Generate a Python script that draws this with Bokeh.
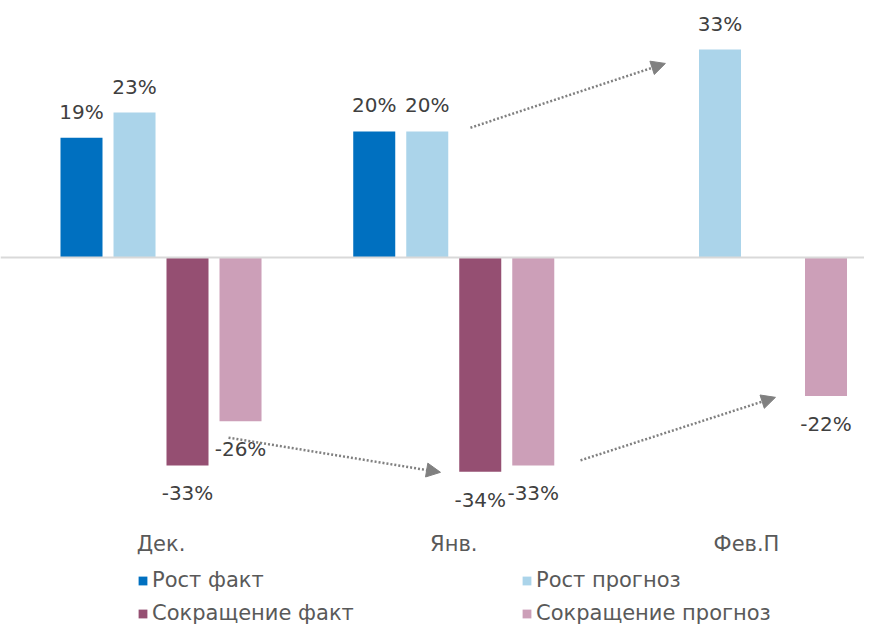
from bokeh.plotting import figure
from bokeh.models import Range1d, Span, Arrow, NormalHead, ColumnDataSource, Legend, LegendItem
from bokeh.core.properties import value
from bokeh.embed import file_html
from bokeh.resources import INLINE

# ---- data ----
categories = ["Дек.", "Янв.", "Фев.П"]
series_names = ["Рост факт", "Рост прогноз", "Сокращение факт", "Сокращение прогноз"]
growth_fact = [19, 20, None]
growth_forecast = [23, 20, 33]
decline_fact = [-33, -34, None]
decline_forecast = [-26, -33, -22]
series_values = [growth_fact, growth_forecast, decline_fact, decline_forecast]

# ---- styles ----
colors = ["#0070C0", "#ABD4EA", "#954F72", "#CC9FB8"]
offsets = [-0.2716, -0.0905, 0.0905, 0.2716]
bar_width = 0.1435
FONT = "DejaVu Sans"
label_color = "#404040"

p = figure(width=864, height=628, output_backend="svg", toolbar_location=None,
           x_range=Range1d(-0.5483, 2.4031), y_range=Range1d(-58.89, 40.79),
           x_axis_location=None, y_axis_location=None, min_border=0,
           outline_line_color=None, background_fill_color="white", border_fill_color="white")
p.xgrid.visible = False
p.ygrid.visible = False

renderers = []
for name, vals, col, off in zip(series_names, series_values, colors, offsets):
    xs, tops = [], []
    for i, v in enumerate(vals):
        if v is not None:
            xs.append(i + off)
            tops.append(v)
    src = ColumnDataSource(dict(x=xs, top=tops, label=[f"{v}%" for v in tops]))
    r = p.vbar(x="x", top="top", bottom=0, width=bar_width, source=src,
               fill_color=col, line_color=None)
    renderers.append(r)
    positive = all(v > 0 for v in tops)
    p.text(x="x", y="top", text="label", source=src, text_align="center",
           text_baseline="alphabetic", y_offset=(-26 if positive else 28),
           text_font=value(FONT), text_font_size="20px", text_color=label_color)

p.add_layout(Span(location=0, dimension="width", line_color="#D9D9D9", line_width=2))

# category labels
cat_src = ColumnDataSource(dict(x=list(range(len(categories))), y=[-45.4] * len(categories), t=categories))
p.text(x="x", y="y", text="t", source=cat_src, text_align="center", text_baseline="alphabetic",
       text_font=value(FONT), text_font_size="21px", text_color="#595959")

# trend arrows (start x, start y, end x, end y)
arrow_paths = [(1.057, 20.6, 1.723, 30.8),
               (0.2306, -28.6, 0.9547, -34.1),
               (1.433, -32.2, 2.099, -22.2)]
for xs_, ys_, xe_, ye_ in arrow_paths:
    p.add_layout(Arrow(x_start=xs_, y_start=ys_, x_end=xe_, y_end=ye_,
                       line_color="#808080", line_width=2.5, line_dash="2 2",
                       end=NormalHead(size=14, fill_color="#808080", line_color="#808080")))

# legend: column-major fill -> order items so rows read Рост / Сокращение
legend_order = [0, 2, 1, 3]
legend = Legend(items=[LegendItem(label=series_names[k], renderers=[renderers[k]]) for k in legend_order],
                ncols=2, location=(137, 3), padding=0, margin=0, spacing=9,
                glyph_width=11, glyph_height=11, label_height=21, label_width=360,
                label_standoff=4, label_text_font=FONT, label_text_font_size="21px",
                label_text_color="#595959", border_line_color=None, background_fill_alpha=0)
p.add_layout(legend)

open("out.html", "w").write(file_html(p, INLINE))
